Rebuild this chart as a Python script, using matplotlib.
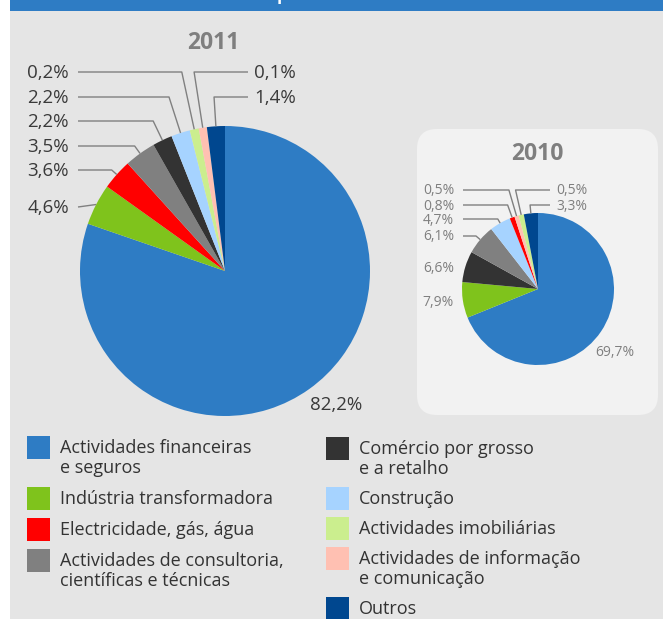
import numpy as np
import matplotlib
matplotlib.use("Agg")
import matplotlib.pyplot as plt
from matplotlib.patches import Rectangle, FancyBboxPatch

# ---------------- data ----------------
categories = [
    "Actividades financeiras\ne seguros",
    "Indústria transformadora",
    "Electricidade, gás, água",
    "Actividades de consultoria,\ncientíficas e técnicas",
    "Comércio por grosso\ne a retalho",
    "Construção",
    "Actividades imobiliárias",
    "Actividades de informação\ne comunicação",
    "Outros",
]
colors = ["#2E7CC4", "#7FC31C", "#FF0000", "#808080", "#333333",
          "#A6D3FF", "#CBEE8E", "#FFC0B2", "#00478F"]

# slice sizes as drawn in the picture (canonical category order)
share_2011 = [80.2, 4.6, 3.4, 3.5, 2.2, 2.1, 1.0, 0.9, 2.0]
labels_2011 = ["82,2%", "4,6%", "3,6%", "3,5%", "2,2%", "2,2%", "0,2%", "0,1%", "1,4%"]
order_2011 = [0, 1, 2, 3, 4, 5, 6, 7, 8]

share_2010 = [68.9, 7.6, 1.05, 6.4, 6.6, 4.5, 1.1, 0.9, 3.0]
labels_2010 = ["69,7%", "7,9%", "0,8%", "6,1%", "6,6%", "4,7%", "0,5%", "0,5%", "3,3%"]
order_2010 = [0, 1, 4, 3, 5, 2, 7, 6, 8]

years = ["2011", "2010"]
header_text = "por sectores"

# ---------------- layout / style ----------------
W, H = 663, 619
plt.rcParams['font.family'] = ['Open Sans', 'DejaVu Sans']

fig = plt.figure(figsize=(W / 100, H / 100), dpi=100, facecolor="white")

bg = fig.add_axes([0, 0, 1, 1], zorder=0)
bg.set_xlim(0, W); bg.set_ylim(H, 0); bg.axis("off")
bg.add_patch(Rectangle((10, 11), W - 10, H - 11, fc="#E5E5E5", ec="none"))
bg.add_patch(Rectangle((10, 0), W - 10, 11, fc="#2E7CC4", ec="none"))
bg.add_patch(FancyBboxPatch((417, 129), 241, 286,
                            boxstyle="round,pad=0,rounding_size=20",
                            fc="#F2F2F2", ec="none"))

ov = fig.add_axes([0, 0, 1, 1], zorder=3)
ov.set_xlim(0, W); ov.set_ylim(H, 0); ov.axis("off")
ov.patch.set_alpha(0)

ov.text(330, 0.3, header_text, color="white", fontsize=12.5, fontweight="bold",
        ha="center", va="baseline", clip_on=False)


def pie_axes(cx, cy, r):
    return fig.add_axes([(cx - r) / W, 1 - (cy + r) / H, 2 * r / W, 2 * r / H], zorder=1)


def draw_pie(cx, cy, r, shares, order, labels, spec, txt_color, fs,
             left_x, right_x, big_pos):
    ax = pie_axes(cx, cy, r)
    wedges, _ = ax.pie([shares[i] for i in order],
                       colors=[colors[i] for i in order],
                       startangle=90, counterclock=False,
                       wedgeprops=dict(linewidth=0))
    ax.set_xlim(-1, 1); ax.set_ylim(-1, 1); ax.set_aspect("equal")
    ax.axis("off")
    for w, i in zip(wedges, order):
        if i == 0:
            ov.text(big_pos[0], big_pos[1], labels[i], color=txt_color,
                    fontsize=fs, ha="left", va="center")
            continue
        side, ly, line = spec[i]
        mid = np.deg2rad((w.theta1 + w.theta2) / 2)
        ex, ey = cx + r * np.cos(mid), cy - r * np.sin(mid)
        lly = ly - 1
        if side == "L":
            ov.text(left_x - 9, ly, labels[i], color=txt_color, fontsize=fs,
                    ha="right", va="center")
            sx = left_x
        else:
            ov.text(right_x + 6, ly, labels[i], color=txt_color, fontsize=fs,
                    ha="left", va="center")
            sx = right_x
        if not line:
            continue
        s = (ey - lly) / np.sin(mid)
        elx = ex + np.cos(mid) * s
        if (side == "L" and (elx > ex or elx < sx)) or (side == "R" and elx > sx):
            xs, ys = [sx, ex], [lly, ey]
        else:
            xs, ys = [sx, elx, ex], [lly, lly, ey]
        ov.plot(xs, ys, color="#808080", lw=1.0, solid_capstyle="butt")


spec_2011 = {1: ("L", 208, True), 2: ("L", 171, True), 3: ("L", 147, True),
             4: ("L", 122, True), 5: ("L", 98, True), 6: ("L", 73, True),
             7: ("R", 73, True), 8: ("R", 98, True)}
spec_2010 = {1: ("L", 302, False), 4: ("L", 269, False), 3: ("L", 237, True),
             5: ("L", 220, True), 2: ("L", 206, True), 7: ("L", 191, True),
             6: ("R", 191, True), 8: ("R", 206, True)}

draw_pie(225, 271, 145, share_2011, order_2011, labels_2011, spec_2011,
         "#3A3A3A", 13.5, 78, 248, (310, 405))
draw_pie(538, 289, 76, share_2010, order_2010, labels_2010, spec_2010,
         "#7F7F7F", 10, 463, 550, (595, 353))

ov.text(213, 43, years[0], color="#7F7F7F", fontsize=16.5, fontweight="bold",
        ha="center", va="center")
ov.text(537, 154, years[1], color="#7F7F7F", fontsize=16.5, fontweight="bold",
        ha="center", va="center")

# ---------------- legend ----------------
leg_pos = [(27, 436), (27, 487), (27, 518), (27, 549),
           (326, 437), (326, 487), (326, 517), (326, 547), (326, 597)]
for i, (x, y) in enumerate(leg_pos):
    ov.add_patch(Rectangle((x, y), 23, 23, fc=colors[i], ec="none"))
    for k, line in enumerate(categories[i].split("\n")):
        ov.text(x + 33, y + 12 + 20 * k, line, color="#333333", fontsize=13,
                ha="left", va="center")

fig.savefig("out.png", dpi=100, facecolor=fig.get_facecolor())
